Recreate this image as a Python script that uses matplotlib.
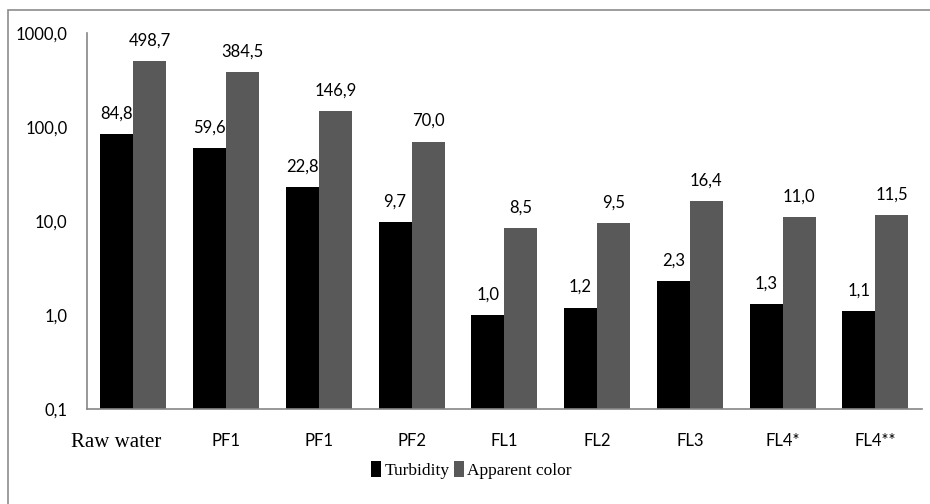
import matplotlib.pyplot as plt
import matplotlib.transforms as mtransforms
import numpy as np
from matplotlib.patches import Rectangle

# data
categories = ["Raw water", "PF1", "PF1", "PF2", "FL1", "FL2", "FL3", "FL4*", "FL4**"]
turbidity = [84.8, 59.6, 22.8, 9.7, 1.0, 1.2, 2.3, 1.3, 1.1]
apparent_color = [498.7, 384.5, 146.9, 70.0, 8.5, 9.5, 16.4, 11.0, 11.5]
y_ticks = [0.1, 1, 10, 100, 1000]
y_tick_labels = ["0,1", "1,0", "10,0", "100,0", "1000,0"]

sans = "Lato"
serif = "Liberation Serif"

fig = plt.figure(figsize=(9.3, 5.04), dpi=100)
ax = fig.add_axes([0.0935, 0.1885, 0.8975, 0.746])

# outer frame (cropped at right/bottom in the original)
fig.patches.append(Rectangle((8 / 930, -0.1), 1.2, 1.1 - 10 / 504,
                             transform=fig.transFigure, fill=False,
                             edgecolor="#8c8c8c", linewidth=1.2))

x = np.arange(len(categories))
w = 0.356
b1 = ax.bar(x - w / 2, turbidity, w, color="black", label="Turbidity")
b2 = ax.bar(x + w / 2, apparent_color, w, color="#595959", label="Apparent color")

ax.set_yscale("log")
ax.set_ylim(0.1, 1000)
ax.set_xlim(-0.5, len(categories) - 0.5)
ax.set_yticks(y_ticks)
ax.set_yticklabels(y_tick_labels, family=sans, fontsize=12)
ax.minorticks_off()
ax.tick_params(axis="y", length=0, pad=14)
ax.tick_params(axis="x", length=0, pad=17)
ax.set_xticks(x)
ax.set_xticklabels(categories, family=sans, fontsize=12)
first = ax.get_xticklabels()[0]
first.set_family(serif)
first.set_fontsize(15)
first.set_transform(first.get_transform() +
                    mtransforms.ScaledTranslation(-17 / 100, 0, fig.dpi_scale_trans))

for s in ["top", "right"]:
    ax.spines[s].set_visible(False)
for s in ["left", "bottom"]:
    ax.spines[s].set_color("#868686")
    ax.spines[s].set_linewidth(1.2)

for bars, vals in [(b1, turbidity), (b2, apparent_color)]:
    for r, v in zip(bars, vals):
        ax.annotate(f"{v:.1f}".replace(".", ","),
                    (r.get_x() + r.get_width() / 2, v),
                    xytext=(0, 9), textcoords="offset points",
                    ha="center", va="bottom", family=sans, fontsize=12)

leg = fig.legend(handles=[b1, b2], loc="center", bbox_to_anchor=(0.507, 1 - 470 / 504),
                 ncol=2, frameon=False, prop={"family": serif, "size": 12.5},
                 handlelength=0.6, handleheight=1.0, handletextpad=0.2,
                 columnspacing=0.2)

fig.savefig("out.png", dpi=100)
